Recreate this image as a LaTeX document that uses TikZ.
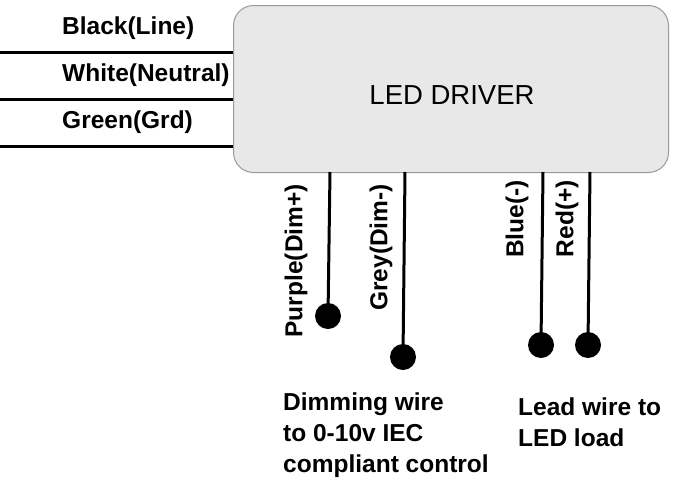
\documentclass[tikz,border=0pt]{standalone}
\usepackage{fontspec}
\setmainfont{Liberation Sans}
\begin{document}
\begin{tikzpicture}[x=1pt,y=-1pt,
 wire/.style={line width=3pt},
 dot/.style={circle,fill=black,inner sep=0pt,minimum size=26pt},
 lbl/.style={font=\bfseries\fontsize{24.5}{31}\selectfont,inner sep=0pt},
 vl/.style={lbl,rotate=90,anchor=east}]
\useasboundingbox (0,0) rectangle (681,488);
\node[draw=gray!80,fill=gray!18,line width=1pt,rounded corners=20pt,minimum width=435pt,minimum height=167pt,anchor=north west] (box) at (233,5) {};
\node[font=\fontsize{27.5}{30}\selectfont] (t) at (452,95) {LED DRIVER};
\foreach \y/\n/\t in {52/a/Black(Line),99/b/White(Neutral),146/c/Green(Grd)}{
 \coordinate (\n0) at (0,\y); \coordinate (\n1) at (233,\y);
 \draw[wire] (\n0) -- (\n1);
 \node[lbl,anchor=west] at (62,\y-24) {\t};}
\foreach \x/\yd/\n in {330/316/p,405/357/g,543/345/u,590/345/r}{
 \coordinate (\n0) at (\x,172);
 \node[dot] (\n) at (\x-2,\yd) {};
 \draw[wire] (\n0) -- (\n.center);}
\node[vl] at (296,184) {Purple(Dim+)};
\node[vl] at (381,184) {Grey(Dim-)};
\node[vl] at (517,180) {Blue(-)};
\node[vl] at (567,180) {Red(+)};
\node[lbl,anchor=north west,align=left] at (283,393) {Dimming wire\\to 0-10v IEC\\compliant control};
\node[lbl,anchor=north west,align=left] at (518,398) {Lead wire to\\LED load};
\end{tikzpicture}
\end{document}
